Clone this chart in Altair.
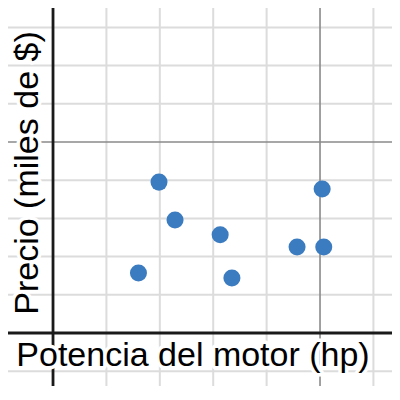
import altair as alt
import pandas as pd

# Data
hp = [1.60, 1.985, 2.285, 3.13, 3.35, 4.57, 5.04, 5.07]
precio = [1.57, 3.95, 2.96, 2.57, 1.44, 2.25, 3.77, 2.25]

x_minor = [-1, 1, 2, 3, 4, 6, 7]
x_major = [5]
y_minor = [-2, -1, 1, 2, 3, 4, 6, 7, 8, 9]
y_major = [5]
axis_zero = [0]

x_title = "Potencia del motor (hp)"
y_title = "Precio (miles de $)"

W, H = 384, 378
xs = alt.Scale(domain=[-0.843, 6.348], nice=False, zero=False)
ys = alt.Scale(domain=[-1.387, 8.508], nice=False, zero=False)

pts = pd.DataFrame({"hp": hp, "precio": precio})

def vrules(vals, color, width):
    return alt.Chart(pd.DataFrame({"v": vals})).mark_rule(color=color, strokeWidth=width).encode(
        x=alt.X("v:Q", scale=xs, axis=None))

def hrules(vals, color, width):
    return alt.Chart(pd.DataFrame({"v": vals})).mark_rule(color=color, strokeWidth=width).encode(
        y=alt.Y("v:Q", scale=ys, axis=None))

grid_minor = vrules(x_minor, "#dcdcdc", 2) + hrules(y_minor, "#dcdcdc", 2)
grid_major = vrules(x_major, "#8a8a8a", 1.6) + hrules(y_major, "#8a8a8a", 1.6)
axes = vrules(axis_zero, "#1a1a1a", 2.8) + hrules(axis_zero, "#1a1a1a", 2.8)

points = alt.Chart(pts).mark_circle(size=290, color="#3b7bbf", opacity=1).encode(
    x=alt.X("hp:Q", scale=xs, axis=None),
    y=alt.Y("precio:Q", scale=ys, axis=None),
)

lab = pd.DataFrame({"t": [0]})

def label(text, x, y, angle, halo):
    kw = dict(text=text, font="Liberation Sans", fontSize=34, align="center",
              baseline="alphabetic", angle=angle)
    if halo:
        kw.update(fill="white", stroke="white", strokeWidth=7, strokeJoin="round")
    else:
        kw.update(fill="black")
    return alt.Chart(lab).mark_text(**kw).encode(x=alt.value(x), y=alt.value(y))

xl_h = label(x_title, 185, 358, 0, True)
xl = label(x_title, 185, 358, 0, False)
yl_h = label(y_title, 30, 165, 270, True)
yl = label(y_title, 30, 165, 270, False)

chart = alt.layer(grid_minor, grid_major, axes, points, xl_h, yl_h, xl, yl).properties(
    width=W, height=H, padding=0, autosize=alt.AutoSizeParams(type="none")
).configure_view(stroke=None)

chart.save("out.html", embed_options={"renderer": "svg", "actions": False})
